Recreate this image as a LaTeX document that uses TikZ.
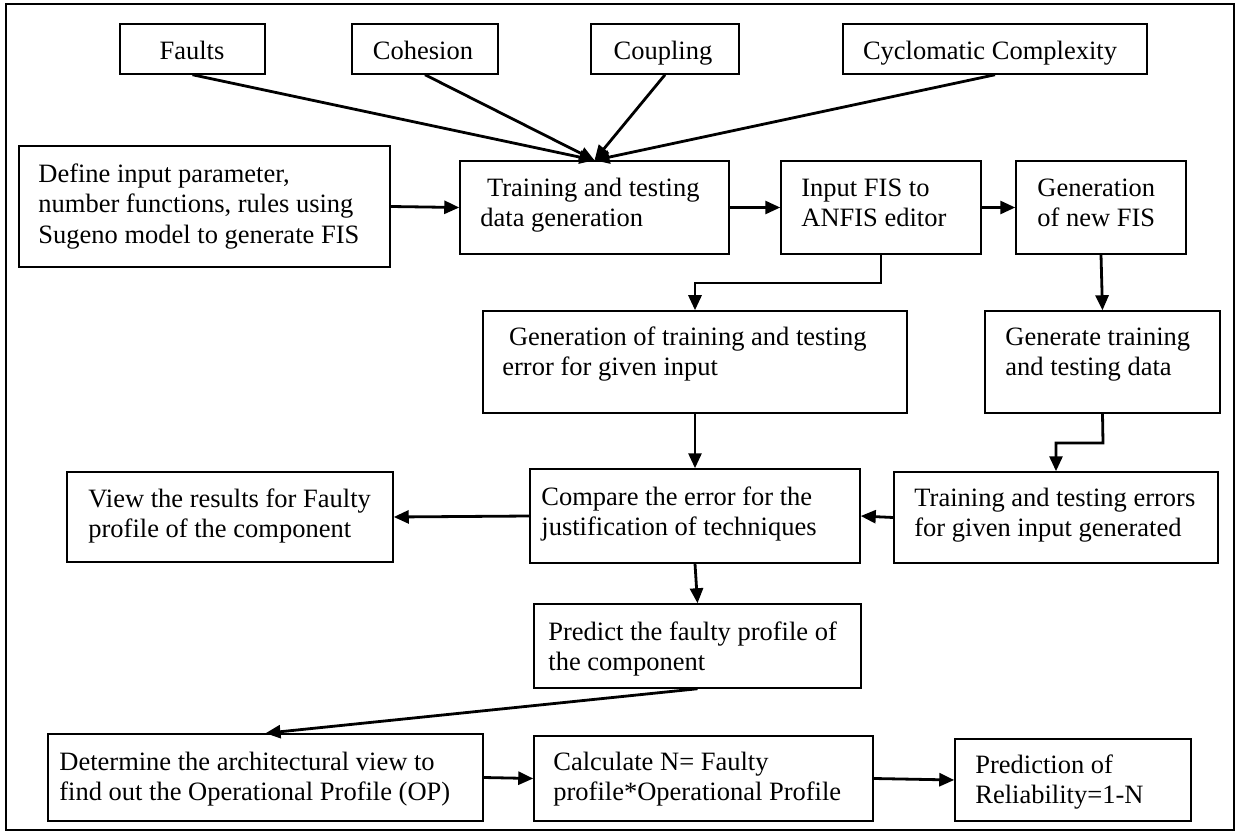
\documentclass[tikz,border=0pt]{standalone}
\usepackage{fontspec}
\setmainfont{Liberation Serif}
\usetikzlibrary{fit,arrows.meta}
\begin{document}
\begin{tikzpicture}[x=0.5pt,y=-0.5pt,
  box/.style={draw, line width=0.75pt, inner sep=0pt},
  txt/.style={inner sep=0pt, align=left, anchor=north west, font=\fontsize{13.25}{15.3}\selectfont},
  ctxt/.style={inner sep=0pt, anchor=base, font=\fontsize{13.25}{15.3}\selectfont},
  arr/.style={line width=1.4pt, -{Triangle[length=7.5pt,width=6.5pt]}}]
\useasboundingbox (0,0) rectangle (1242,834);
\draw[line width=1pt] (6,4) rectangle (1234,830);

% top input boxes
\node[box, fit={(120,24)(265,74)}] (faults) {};
\node[ctxt] (faults-t) at (192,60) {Faults};
\node[box, fit={(352,24)(498,74)}] (cohesion) {};
\node[ctxt] (cohesion-t) at (423,60) {Cohesion};
\node[box, fit={(591,24)(739,74)}] (coupling) {};
\node[ctxt] (coupling-t) at (663,60) {Coupling};
\node[box, fit={(843,24)(1147,74)}] (cyclo) {};
\node[ctxt] (cyclo-t) at (990,60) {Cyclomatic Complexity};

% row 2
\node[box, fit={(19,146)(390,267)}] (define) {};
\node[txt] (define-t) at (38,160.3) {\strut Define input parameter,\\number functions, rules using\\Sugeno model to generate FIS};
\node[box, fit={(460,161)(729,254)}] (train) {};
\node[txt] (train-t) at (480,174.3) {\strut\hspace*{.25em}Training and testing\\data generation};
\node[box, fit={(781,161)(981,254)}] (infis) {};
\node[txt] (infis-t) at (801,174.3) {\strut Input FIS to\\ANFIS editor};
\node[box, fit={(1016,161)(1186,254)}] (newfis) {};
\node[txt] (newfis-t) at (1037,174.3) {\strut Generation\\of new FIS};

% row 3
\node[box, fit={(483,311)(907,413)}] (generr) {};
\node[txt] (generr-t) at (502,323.3) {\strut\hspace*{.25em}Generation of training and testing\\error for given input};
\node[box, fit={(985,311)(1220,413)}] (gendata) {};
\node[txt] (gendata-t) at (1005,323.3) {\strut Generate training\\and testing data};

% row 4
\node[box, fit={(67,472)(393,562)}] (view) {};
\node[txt] (view-t) at (88,485.3) {\strut View the results for Faulty\\profile of the component};
\node[box, fit={(530,469)(860,563)}] (compare) {};
\node[txt] (compare-t) at (541,483.3) {\strut Compare the error for the\\justification of techniques};
\node[box, fit={(894,472)(1218,563)}] (trainerr) {};
\node[txt] (trainerr-t) at (914,484.3) {\strut Training and testing errors\\for given input generated};

% row 5
\node[box, fit={(534,604)(861,688)}] (predict) {};
\node[txt] (predict-t) at (548,618.3) {\strut Predict the faulty profile of\\the component};

% row 6
\node[box, fit={(48,734)(483,821)}] (determine) {};
\node[txt] (determine-t) at (59,748.3) {\strut Determine the architectural view to\\find out the Operational Profile (OP)};
\node[box, fit={(534,736)(873,821)}] (calc) {};
\node[txt] (calc-t) at (553,748.3) {\strut Calculate N= Faulty\\profile*Operational Profile};
\node[box, fit={(955,739)(1191,821)}] (reliab) {};
\node[txt] (reliab-t) at (975,751.3) {\strut Prediction of\\Reliability=1-N};

% connectors
\draw[arr] (faults.south) -- (train.north);
\draw[arr] (cohesion.south) -- (train.north);
\draw[arr] (coupling.south) -- (train.north);
\draw[arr] (cyclo.south) -- (train.north);
\draw[arr] (define.east) -- (train.west);
\draw[arr] (train.east) -- (infis.west);
\draw[arr] (infis.east) -- (newfis.west);
\coordinate (b1) at (881,283);
\draw[arr] (infis.south) -- (b1) -| (generr.north);
\draw[arr] (newfis.south) -- (gendata.north);
\coordinate (b2) at (1103,443);
\draw[arr] (gendata.south) -- (b2) -| (trainerr.north);
\draw[arr] (generr.south) -- (compare.north);
\draw[arr] (trainerr.west) -- (compare.east);
\draw[arr] (compare.west) -- (view.east);
\draw[arr] (compare.south) -- (predict.north);
\draw[arr] (predict.south) -- (determine.north);
\draw[arr] (determine.east) -- (calc.west);
\draw[arr] (calc.east) -- (reliab.west);
\end{tikzpicture}
\end{document}
